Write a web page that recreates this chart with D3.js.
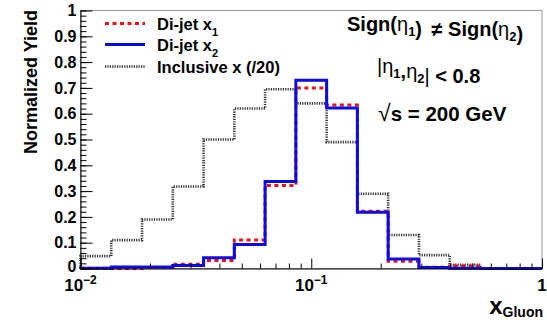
<!DOCTYPE html>
<html>
<head>
<meta charset="utf-8">
<script src="https://cdn.jsdelivr.net/npm/d3@7"></script>
<style>
  html, body { margin: 0; padding: 0; background: #fff; }
  svg { display: block; font-family: "Liberation Sans", Arial, Helvetica, sans-serif; }
  .b { font-weight: bold; }
</style>
</head>
<body>
<svg id="chart" width="547" height="323"></svg>
<script>
// ---- data ----
const binEdges = [0.01, 0.013594, 0.018478, 0.025119, 0.034145, 0.046416, 0.063096, 0.085770,
                  0.116591, 0.158489, 0.215443, 0.292864, 0.398107, 0.541170, 0.735642, 1];
const inclusive = [0.048, 0.11, 0.19, 0.318, 0.50, 0.62, 0.695, 0.64, 0.49, 0.29, 0.13, 0.052, 0.014, 0, 0];
const dijetX1   = [0.001, 0.0, 0.004, 0.016, 0.031, 0.11, 0.322, 0.70, 0.634, 0.222, 0.028, 0.005, 0.010, 0, 0];
const dijetX2   = [0.001, 0.006, 0.006, 0.012, 0.042, 0.093, 0.337, 0.73, 0.622, 0.218, 0.037, 0.004, 0.001, 0, 0];
const yTicks = [0, 0.1, 0.2, 0.3, 0.4, 0.5, 0.6, 0.7, 0.8, 0.9, 1];
const yTickLabels = ["0", "0.1", "0.2", "0.3", "0.4", "0.5", "0.6", "0.7", "0.8", "0.9", "1"];
const xMajor = [0.01, 0.1, 1];
const xMajorBase = ["10", "10", "1"];
const xMajorExp = ["\u22122", "\u22121", ""];
const legendLabels = ["Di-jet x", "Di-jet x", "Inclusive x (/20)"];
const legendSubs = ["1", "2", ""];

// ---- layout ----
const svg = d3.select("#chart");
const x = d3.scaleLog().domain([0.01, 1]).range([80.5, 542]);
const y = d3.scaleLinear().domain([0, 1]).range([268.5, 10.5]);

// frame (top & right)
svg.append("rect").attr("x", x(0.01)).attr("y", y(1))
  .attr("width", x(1) - x(0.01)).attr("height", y(0) - y(1))
  .attr("fill", "none").attr("stroke", "#999").attr("stroke-width", 1);

// histograms
function stepPath(vals) {
  const pts = [[x(binEdges[0]), y(0)]];
  vals.forEach((v, i) => {
    pts.push([x(binEdges[i]), y(v)]);
    pts.push([x(binEdges[i + 1]), y(v)]);
  });
  pts.push([x(binEdges[binEdges.length - 1]), y(0)]);
  return d3.line()(pts);
}
const styles = {
  x1:  { vals: dijetX1,   color: "#ee1111", width: 3,   dash: "4,3.5" },
  x2:  { vals: dijetX2,   color: "#0a0ae6", width: 3,   dash: null },
  inc: { vals: inclusive, color: "#333333", width: 2.6, dash: "1.2,1.2" }
};
["inc", "x1", "x2"].forEach(k => {
  const s = styles[k];
  svg.append("path").attr("d", stepPath(s.vals))
    .attr("fill", "none").attr("stroke", s.color).attr("stroke-width", s.width)
    .attr("stroke-dasharray", s.dash).attr("stroke-linejoin", "miter");
});

// y axis
const yMinor = d3.range(0, 1.0001, 0.02);
svg.append("g").attr("transform", `translate(${x(0.01)},0)`)
  .call(d3.axisLeft(y).tickValues(yMinor).tickSizeInner(-6).tickSizeOuter(0).tickFormat(""))
  .call(g => g.select(".domain").attr("stroke", "#000"));
const yAx = svg.append("g").attr("transform", `translate(${x(0.01)},0)`)
  .call(d3.axisLeft(y).tickValues(yTicks).tickSizeInner(-12).tickSizeOuter(0).tickPadding(4)
    .tickFormat((d, i) => yTickLabels[i]));
yAx.select(".domain").remove();
yAx.selectAll("text").attr("class", "b").attr("font-size", 16)
  .attr("font-family", "'Liberation Sans', Arial, sans-serif").attr("fill", "#000");
yAx.selectAll("text").filter(d => d === 0).attr("dy", "0.2em");

// x axis
const xMinorVals = [];
[0.01, 0.1].forEach(dec => { for (let k = 2; k <= 9; k++) xMinorVals.push(dec * k); });
svg.append("g").attr("transform", `translate(0,${y(0)})`)
  .call(d3.axisBottom(x).tickValues(xMinorVals).tickSizeInner(-5).tickSizeOuter(0).tickFormat(""))
  .call(g => g.select(".domain").attr("stroke", "#000"));
const xAx = svg.append("g").attr("transform", `translate(0,${y(0)})`)
  .call(d3.axisBottom(x).tickValues(xMajor).tickSizeInner(-10).tickSizeOuter(0).tickFormat(""));
xAx.select(".domain").remove();

xMajor.forEach((v, i) => {
  const t = svg.append("text").attr("class", "b").style("font-size", "17px")
    .attr("x", x(v)).attr("y", 291).attr("text-anchor", "middle");
  t.append("tspan").text(xMajorBase[i]);
  if (xMajorExp[i]) t.append("tspan").style("font-size", "12px").attr("dy", -7).text(xMajorExp[i]);
});

// axis titles
svg.append("text").attr("class", "b").style("font-size", "18px")
  .attr("transform", "translate(37,10) rotate(-90)").attr("text-anchor", "end")
  .text("Normalized Yield");
const xt = svg.append("text").attr("class", "b").attr("x", 543).attr("y", 314).attr("text-anchor", "end");
xt.append("tspan").style("font-size", "24px").text("x");
xt.append("tspan").style("font-size", "14px").attr("dy", 3).text("Gluon");

// legend (order: x1, x2, inclusive)
const legY = [23.5, 44.5, 66.5];
["x1", "x2", "inc"].forEach((k, i) => {
  const s = styles[k];
  svg.append("line").attr("x1", 105).attr("x2", 145).attr("y1", legY[i]).attr("y2", legY[i])
    .attr("stroke", s.color).attr("stroke-width", s.width).attr("stroke-dasharray", s.dash);
  const t = svg.append("text").attr("class", "b").style("font-size", "16.5px")
    .attr("x", 157).attr("y", legY[i] + 6);
  t.append("tspan").text(legendLabels[i]);
  if (legendSubs[i]) t.append("tspan").style("font-size", "11px").attr("dy", 6).text(legendSubs[i]);
});

// annotations
function eta(t, sub) {
  t.append("tspan").attr("font-weight", "normal").text("\u03B7");
  t.append("tspan").style("font-size", "13px").attr("dy", 5).text(sub);
  t.append("tspan").attr("dy", -5).text("");
}
const a1 = svg.append("text").attr("class", "b").style("font-size", "20px").attr("x", 347).attr("y", 31);
a1.append("tspan").text("Sign(");
eta(a1, "1");
a1.append("tspan").text(")\u2009 \u2260 Sign(");
eta(a1, "2");
a1.append("tspan").text(")");

const a2 = svg.append("text").attr("class", "b").style("font-size", "20px").attr("x", 377).attr("y", 73);
a2.append("tspan").attr("font-weight", "normal").text("|");
eta(a2, "1");
a2.append("tspan").text(",");
eta(a2, "2");
a2.append("tspan").attr("font-weight", "normal").text("|");
a2.append("tspan").text(" < 0.8");

const a3 = svg.append("text").attr("class", "b").style("font-size", "20.5px").attr("x", 378).attr("y", 121);
a3.append("tspan").attr("font-weight", "normal").style("font-size", "23px").text("\u221A");
a3.append("tspan").text("s = 200 GeV");
</script>
</body>
</html>
